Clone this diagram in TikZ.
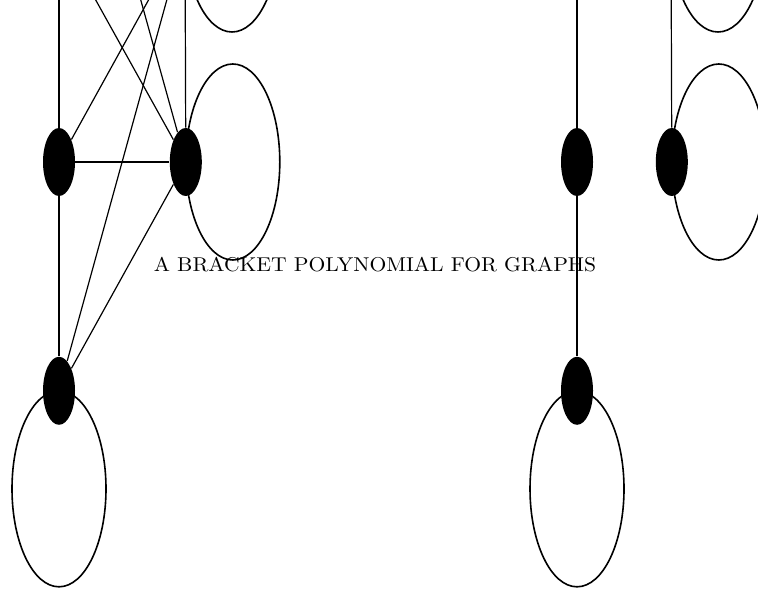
\documentclass[tikz,border=0pt]{standalone}
\usepackage{graphicx}
\usetikzlibrary{calc,positioning,shapes.geometric,backgrounds}

\begin{document}
\begin{tikzpicture}[x=0.5pt,y=-0.5pt]
  \tikzstyle{vert}=[ellipse,fill=black,minimum width=16pt,minimum height=34pt,inner sep=0pt]
  \tikzstyle{edge}=[line width=0.6pt]
  \tikzstyle{loopy}=[line width=0.8pt]
  \useasboundingbox (0,0) rectangle (758,592);
  \clip (0,0) rectangle (758,592);

  \node[anchor=base] (head) at (375,272) {\scalebox{1.08}[1]{A BRACKET POLYNOMIAL FOR GRAPHS}};

  % ends above the picture
  \coordinate (p0) at (59,-294);
  \coordinate (p1) at (59,-66);
  \coordinate (p2) at (185,-66);
  \coordinate (q1) at (577,-66);
  \coordinate (q2) at (671,-66);

  % left graph
  \node[vert] (a) at (59,162) {};
  \node[vert,right=47pt of a] (b) {};
  \node[vert,below=80pt of a] (c) {};
  \draw[edge] (p1) -- (a) -- (c);
  \draw[edge] (p2) -- (b);
  \draw[line width=1.3pt] (a) -- (b);
  \draw[edge] (p2) -- (a);
  \draw[edge] (p1) -- (b);
  \draw[edge] (p0) -- (b);
  \draw[edge] (p2) -- (c);
  \draw[edge] (b) -- (c);

  % right graph
  \node[vert] (d) at (577,162) {};
  \node[vert,right=31pt of d] (e) {};
  \node[vert,below=80pt of d] (f) {};
  \draw[edge] (q1) -- (d) -- (f);
  \draw[edge] (q2) -- (e);

  % loops
  \begin{pgfonlayer}{background}
    \draw[loopy] ($(b.center)+(23.5pt,0)$) ellipse (23.5pt and 49pt);
    \draw[loopy] ($(p2)+(23.5pt,0)$) ellipse (23.5pt and 49pt);
    \draw[loopy] ($(c.center)+(0,-49pt)$) ellipse (23.5pt and 49pt);
    \draw[loopy] ($(e.center)+(23.5pt,0)$) ellipse (23.5pt and 49pt);
    \draw[loopy] ($(q2)+(23.5pt,0)$) ellipse (23.5pt and 49pt);
    \draw[loopy] ($(f.center)+(0,-49pt)$) ellipse (23.5pt and 49pt);
  \end{pgfonlayer}
\end{tikzpicture}
\end{document}
